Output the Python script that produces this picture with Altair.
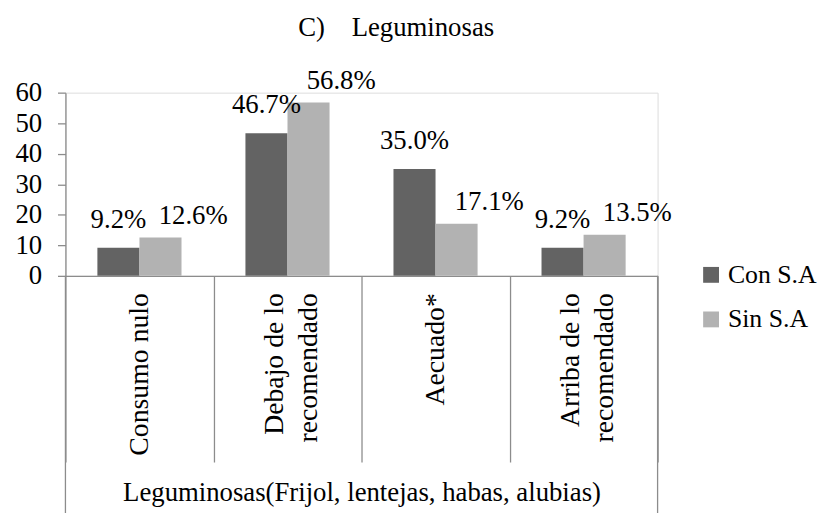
import altair as alt
import pandas as pd

# ---- data ----
categories = ["Consumo nulo", "Debajo de lo|recomendado", "Aecuado*", "Arriba de lo|recomendado"]
series = ["Con S.A", "Sin S.A"]
con_sa = [9.2, 46.7, 35.0, 9.2]
sin_sa = [12.6, 56.8, 17.1, 13.5]
y_ticks = [0, 10, 20, 30, 40, 50, 60]
title_text = "C)\u00a0\u00a0\u00a0\u00a0Leguminosas"
group_label = "Leguminosas(Frijol, lentejas, habas, alubias)"

rows = []
for c, v in zip(categories, con_sa):
    rows.append({"cat": c, "series": series[0], "value": v})
for c, v in zip(categories, sin_sa):
    rows.append({"cat": c, "series": series[1], "value": v})
df = pd.DataFrame(rows)

FONT = "'Liberation Serif', 'Times New Roman', serif"
GREY = "#8c8c8c"
COLORS = ["#636363", "#b2b2b2"]
W, H = 598, 185
TICK = 188
FS = 27

x_enc = alt.X(
    "cat:N",
    sort=categories,
    scale=alt.Scale(domain=categories, paddingInner=0, paddingOuter=0),
    axis=alt.Axis(
        title=group_label,
        titleFont=FONT, titleFontSize=FS, titleFontWeight="normal", titleColor="black",
        titleBaseline="alphabetic", titleY=227, titleX=W / 2, titleAnchor="middle",
        labelExpr="split(datum.label, '|')",
        labelAngle=270, labelFont=FONT, labelFontSize=28, labelColor="black",
        labelPadding=17 - TICK, labelLineHeight=34, labelAlign="right", labelBaseline="middle",
        labelOffset={"condition": {"test": "indexof(datum.label, '|') >= 0", "value": -13}, "value": 0},
        tickBand="extent", tickSize=TICK, tickColor=GREY, tickWidth=1.3,
        domainColor=GREY, domainWidth=1.3, labelOverlap=False, labelBound=False,
    ),
)
xoff_enc = alt.XOffset(
    "series:N", sort=series,
    scale=alt.Scale(domain=series, paddingInner=0, paddingOuter=0.76),
)
y_enc = alt.Y(
    "value:Q",
    scale=alt.Scale(domain=[0, 60], nice=False),
    axis=alt.Axis(
        title=None, values=y_ticks, tickCount=7, grid=False, labelOverlap=False,
        labelFont=FONT, labelFontSize=FS, labelColor="black", labelPadding=16,
        tickSize=8, tickColor=GREY, tickWidth=1.3, domainColor=GREY, domainWidth=1.3,
        labelBound=False, labelFlush=False,
    ),
)

base = alt.Chart(df)

bars = base.mark_bar(strokeWidth=0).encode(
    x=x_enc,
    xOffset=xoff_enc,
    y=y_enc,
    color=alt.Color(
        "series:N", sort=series,
        scale=alt.Scale(domain=series, range=COLORS),
        legend=alt.Legend(
            title=None, orient="none", legendX=639, legendY=171,
            symbolType="square", symbolSize=256, symbolStrokeWidth=0,
            labelFont=FONT, labelFontSize=26, labelColor="black",
            rowPadding=19, labelOffset=4, padding=0, labelLimit=300,
        ),
    ),
)

lab_common = dict(font=FONT, fontSize=FS, fontWeight="normal", baseline="alphabetic",
                  align="center", color="black")
labels_con = base.transform_filter(alt.datum.series == series[0]).transform_calculate(
    lbl="format(datum.value, '.1f') + '%'"
).mark_text(dy=-20, **lab_common).encode(
    x=alt.X("cat:N", sort=categories), xOffset=alt.XOffset("series:N", sort=series),
    y="value:Q", text="lbl:N",
)
labels_sin = base.transform_filter(alt.datum.series == series[1]).transform_calculate(
    lbl="format(datum.value, '.1f') + '%'"
).mark_text(dy=-14, dx=33, **lab_common).encode(
    x=alt.X("cat:N", sort=categories), xOffset=alt.XOffset("series:N", sort=series),
    y="value:Q", text="lbl:N",
)

left_frame = alt.Chart(pd.DataFrame({"cat": [categories[0]]})).mark_rule(
    color=GREY, strokeWidth=1.3
).encode(x=alt.X("cat:N", bandPosition=0), y=alt.value(H), y2=alt.value(H + 240))
right_frame = alt.Chart(pd.DataFrame({"cat": [categories[-1]]})).mark_rule(
    color=GREY, strokeWidth=1.3
).encode(x=alt.X("cat:N", bandPosition=1), y=alt.value(H), y2=alt.value(H + 240))

chart = alt.layer(bars, labels_con, labels_sin, left_frame, right_frame).properties(
    width=W,
    height=H,
    autosize=alt.AutoSizeParams(type="none"),
    padding={"left": 58, "top": 83, "right": 163, "bottom": 237},
    title=alt.Title(
        title_text, font=FONT, fontSize=FS, fontWeight="normal", color="black",
        anchor="middle", frame="group", baseline="alphabetic", offset=4, dx=35,
    ),
).configure_view(stroke=None).configure(background="white")

chart.save("out.html", embed_options={"renderer": "svg", "actions": False})
